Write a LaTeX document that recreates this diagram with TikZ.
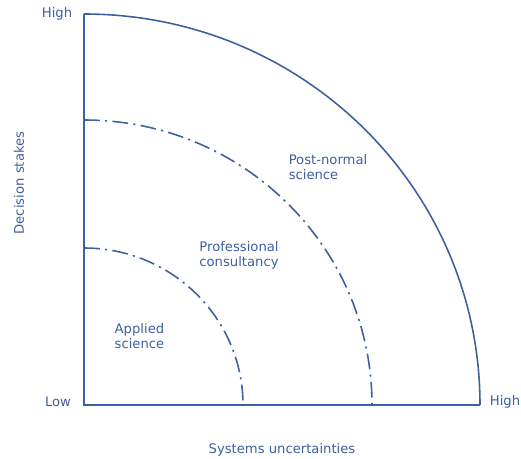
\documentclass[tikz,border=0pt]{standalone}
\usepackage{fontspec}
\setmainfont{DejaVu Sans}
\definecolor{diagblue}{RGB}{62,96,160}

\tikzset{
  txt/.style={text=diagblue,font=\fontsize{7.5}{8.6}\selectfont,inner sep=0pt},
  axisline/.style={diagblue,line width=0.9pt},
  dashdot/.style={diagblue,line width=0.9pt,dash pattern=on 9pt off 3pt on 1.2pt off 3pt}
}

\begin{document}
\begin{tikzpicture}[x=0.02cm,y=0.02cm]
	\useasboundingbox (0,0) rectangle (521,458);
	
	% axes
	\coordinate (O) at (84,53);
	\coordinate (top) at (84,444);
	\coordinate (right) at (480,53);
	\draw[axisline] (top) -- (O) -- (right);
	
	% outer boundary and the two dash-dot arcs
	\draw[axisline] (top) arc[start angle=90,end angle=0,x radius=396,y radius=391];
	\coordinate (midtop) at (84,338);
	\draw[dashdot] (midtop) arc[start angle=90,end angle=0,x radius=288,y radius=285];
	\coordinate (intop) at (84,210);
	\draw[dashdot] (intop) arc[start angle=90,end angle=0,x radius=159,y radius=157];
	
	% axis labels
	\node[txt] (yhigh) at (57,444) {High};
	\node[txt] (xlow) at (58,56) {Low};
	\node[txt] (xhigh) at (505,56) {High};
	\node[txt,rotate=90] (ylabel) at (19,275) {Decision stakes};
	\node[txt] (xlabel) at (282,8) {Systems uncertainties};
	
	% regions
	\node[txt,align=left] (pns) at (328,291) {Post-normal\\science};
	\node[txt,align=left] (pc) at (239,203) {Professional\\consultancy};
	\node[txt,align=left] (as) at (139.5,122) {Applied\\science};
\end{tikzpicture}
\end{document}
